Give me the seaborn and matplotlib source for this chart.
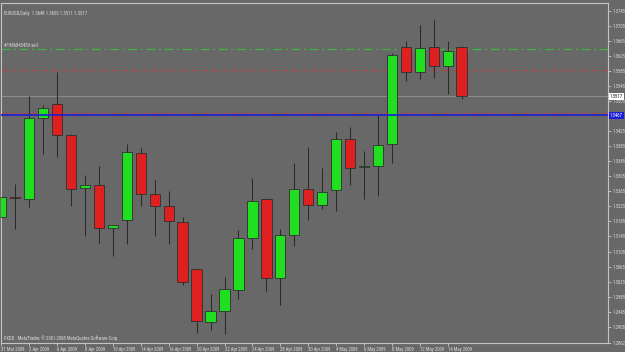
import numpy as np
import pandas as pd
import matplotlib
matplotlib.use("Agg")
import matplotlib.pyplot as plt
from matplotlib import font_manager
import seaborn as sns

# ---------------- data ----------------
dates = ["31 Mar 2009", "1 Apr 2009", "2 Apr 2009", "3 Apr 2009", "6 Apr 2009",
         "7 Apr 2009", "8 Apr 2009", "9 Apr 2009", "10 Apr 2009", "13 Apr 2009",
         "14 Apr 2009", "15 Apr 2009", "16 Apr 2009", "17 Apr 2009", "20 Apr 2009",
         "21 Apr 2009", "22 Apr 2009", "23 Apr 2009", "24 Apr 2009", "27 Apr 2009",
         "28 Apr 2009", "29 Apr 2009", "30 Apr 2009", "1 May 2009", "4 May 2009",
         "5 May 2009", "6 May 2009", "7 May 2009", "8 May 2009", "11 May 2009",
         "12 May 2009", "13 May 2009", "14 May 2009", "15 May 2009"]
opens = [1.3197, 1.3249, 1.3245, 1.3460, 1.3497, 1.3414, 1.3274, 1.3282, 1.3167,
         1.3189, 1.3367, 1.3257, 1.3226, 1.3184, 1.3059, 1.2919, 1.2947, 1.3004,
         1.3141, 1.3245, 1.3035, 1.3149, 1.3271, 1.3229, 1.3269, 1.3404, 1.3330,
         1.3332, 1.3391, 1.3647, 1.3581, 1.3648, 1.3599, 1.3648]
highs = [1.3261, 1.3285, 1.3517, 1.3495, 1.3581, 1.3418, 1.3307, 1.3333, 1.3176,
         1.3391, 1.3380, 1.3296, 1.3267, 1.3196, 1.3061, 1.2993, 1.3038, 1.3161,
         1.3300, 1.3246, 1.3166, 1.3340, 1.3383, 1.3327, 1.3422, 1.3436, 1.3373,
         1.3468, 1.3632, 1.3665, 1.3706, 1.3720, 1.3665, 1.3650]
lows = [1.3184, 1.3165, 1.3222, 1.3364, 1.3356, 1.3227, 1.3147, 1.3128, 1.3092,
        1.3126, 1.3225, 1.3145, 1.3126, 1.3015, 1.2889, 1.2896, 1.2885, 1.2978,
        1.3112, 1.2999, 1.2963, 1.3119, 1.3190, 1.3218, 1.3212, 1.3281, 1.3245,
        1.3252, 1.3340, 1.3557, 1.3563, 1.3565, 1.3524, 1.3511]
closes = [1.3250, 1.3248, 1.3460, 1.3486, 1.3414, 1.3271, 1.3281, 1.3168, 1.3175,
          1.3368, 1.3259, 1.3227, 1.3186, 1.3024, 1.2921, 1.2946, 1.3005, 1.3142,
          1.3240, 1.3034, 1.3148, 1.3271, 1.3229, 1.3262, 1.3405, 1.3328, 1.3332,
          1.3389, 1.3627, 1.3582, 1.3645, 1.3599, 1.3637, 1.3517]

xtick_labels = dates[0::2]
ytick_values = [1.2862, 1.2905, 1.2945, 1.2985, 1.3025, 1.3065, 1.3105, 1.3145,
                1.3185, 1.3225, 1.3265, 1.3305, 1.3345, 1.3385, 1.3425, 1.3505,
                1.3545, 1.3585, 1.3625, 1.3665, 1.3705, 1.3745]
ytick_labels = ["%.4f" % v for v in ytick_values]

bid_price = 1.3517
blue_level = 1.3467
order_level = 1.3643
red_levels = [1.3588, 1.3474]
title = "EURUSD,Daily  1.3648 1.3650 1.3511 1.3517"
order_label = "#1986843459 sell"
footer = "FXDD - MetaTrader, \u00a9 2001-2008 MetaQuotes Software Corp."

# ---------------- style ----------------
BG = "#686868"
FG = "#dcdcdc"
sns.set_style("dark", {"axes.facecolor": BG, "figure.facecolor": BG,
                       "axes.edgecolor": "#c4c4c4", "grid.color": BG})

available = {f.name for f in font_manager.fontManager.ttflist}
FONT, FS = "DejaVu Sans", 2.6
for name, size in [("Liberation Sans Narrow", 3.5), ("Roboto Condensed", 3.4),
                   ("DejaVu Sans Condensed", 3.0)]:
    if name in available:
        FONT, FS = name, size
        break
plt.rcParams["font.family"] = [FONT, "DejaVu Sans"]

W, H = 625, 352
fig = plt.figure(figsize=(W / 100, H / 100), dpi=100)
ax = fig.add_axes([1 / W, 1 - 343 / H, 607 / W, 340 / H])

n = len(dates)
df = pd.DataFrame({"pos": np.arange(n), "open": opens, "high": highs,
                   "low": lows, "close": closes})
df["up"] = df["close"] > df["open"]
df["bottom"] = df[["open", "close"]].min(axis=1)
df["body"] = (df["close"] - df["open"]).abs().clip(lower=0.00012)

# wicks
ax.vlines(df["pos"], df["low"], df["high"], color="#2a2a2a", lw=0.75, zorder=2)

edge = "#2f2f2f"
up = df[df["up"]]
dn = df[~df["up"]]
sns.barplot(data=up, x="pos", y="body", native_scale=True, bottom=up["bottom"].values,
            color="#00ff00", edgecolor=edge, linewidth=0.6, width=0.74,
            errorbar=None, ax=ax, zorder=3)
sns.barplot(data=dn, x="pos", y="body", native_scale=True, bottom=dn["bottom"].values,
            color="#ff0000", edgecolor=edge, linewidth=0.6, width=0.74,
            errorbar=None, ax=ax, zorder=3)

# horizontal levels
ax.axhline(bid_price, color="#8e8e8e", lw=0.7, zorder=1)
ax.axhline(order_level, color="#3cb83c", lw=0.9, ls=(0, (7, 3, 1.5, 3)), zorder=1)
for lv in red_levels:
    ax.axhline(lv, color="#a84848", lw=0.9, ls=(0, (5, 3)), zorder=1)
ax.axhline(blue_level, color="#1c1cd8", lw=1.2, zorder=4)

ax.set_xlim(-0.0215, 43.49)
ax.set_ylim(1.2862, 1.3765)

# axes/ticks
ax.yaxis.tick_right()
ax.set_yticks(ytick_values)
ax.set_yticklabels(ytick_labels)
ax.set_xticks(np.arange(0, n, 2))
ax.set_xticklabels(xtick_labels)
for lab in ax.get_xticklabels():
    lab.set_ha("left")
ax.tick_params(axis="both", labelsize=FS, colors=FG, length=2.0, width=0.5,
               direction="out", pad=1.0, bottom=True, right=True, left=False)
ax.tick_params(axis="x", pad=0.6)
ax.set_xlabel("")
ax.set_ylabel("")
for sp in ax.spines.values():
    sp.set_visible(True)
    sp.set_color("#c4c4c4")
    sp.set_linewidth(0.8)
ax.grid(False)

# price boxes
ytr = ax.get_yaxis_transform()
ax.text(1.003, bid_price, "%.4f" % bid_price, transform=ytr, fontsize=FS, color="black",
        va="center", ha="left", clip_on=False,
        bbox=dict(facecolor="white", edgecolor="none", pad=0.6), zorder=6)
ax.text(1.003, blue_level, "%.4f" % blue_level, transform=ytr, fontsize=FS,
        color="white", va="center", ha="left", clip_on=False,
        bbox=dict(facecolor="#1c1cd8", edgecolor="none", pad=0.6), zorder=6)

# texts
ax.text(3 / 607, 1 - 10 / 340, title, transform=ax.transAxes, fontsize=FS,
        color=FG, va="center", ha="left")
ax.text(3 / 607, order_level + 0.0009, order_label, transform=ytr,
        fontsize=FS, color=FG, va="center", ha="left")
ax.text(3 / 607, 5 / 340, footer, transform=ax.transAxes, fontsize=FS,
        color=FG, va="center", ha="left")

fig.savefig("out.png", dpi=100, facecolor=BG)
